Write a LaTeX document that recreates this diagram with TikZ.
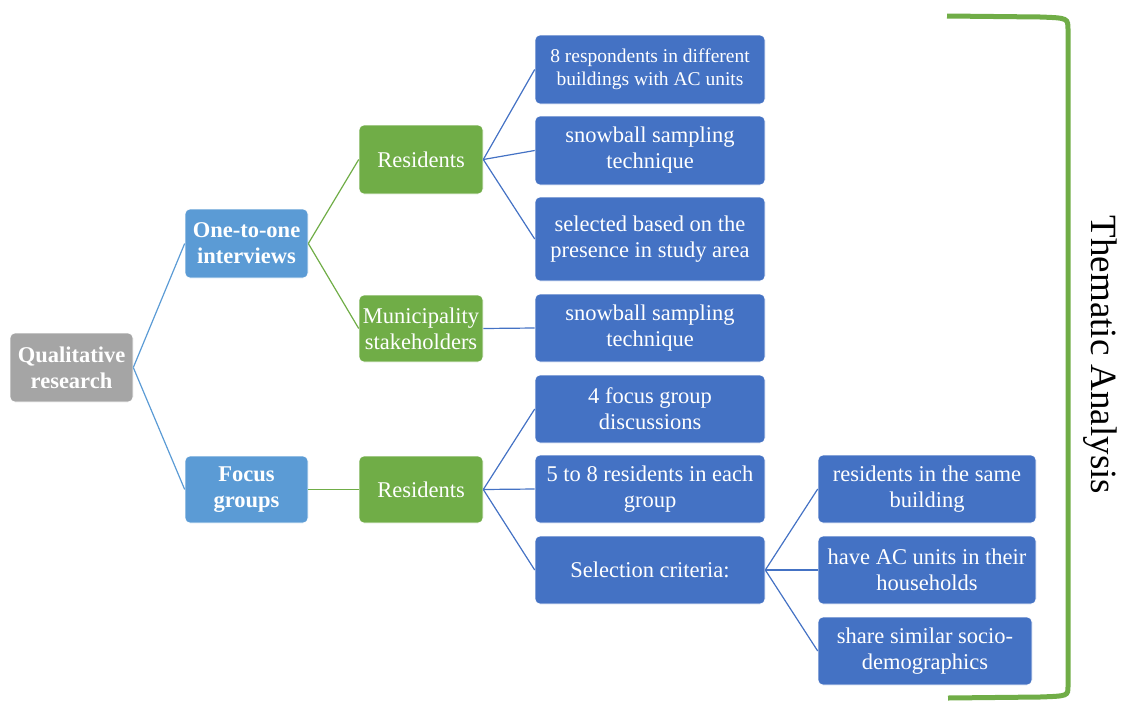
\documentclass[tikz,border=0pt]{standalone}
\usepackage{fontspec}
\setmainfont{Liberation Serif}
\definecolor{gry}{HTML}{A5A5A5}
\definecolor{lblue}{HTML}{5B9BD5}
\definecolor{grn}{HTML}{70AD47}
\definecolor{dblue}{HTML}{4472C4}
\tikzset{
  box/.style={rectangle, rounded corners=5pt, draw=white, line width=0.6pt, text=white, align=center, inner sep=0pt, font=\fontsize{22.5}{26}\selectfont},
  boldbox/.style={box, font=\fontsize{22.5}{26}\selectfont\bfseries},
  smallbox/.style={box, font=\fontsize{19.5}{23}\selectfont},
  conn/.style={line width=1.2pt},
}
\begin{document}
\begin{tikzpicture}[x=1pt,y=-1pt]
\useasboundingbox (0,0) rectangle (1123,704);
% level 0
\node[boldbox, fill=gry, minimum width=123pt, minimum height=69pt] (q) at (71.5,367.5) {Qualitative\\research};
% level 1
\node[boldbox, fill=lblue, minimum width=123pt, minimum height=69pt] (one) at (246.5,243.5) {One-to-one\\interviews};
\node[boldbox, fill=lblue, minimum width=123pt, minimum height=67pt] (fg) at (246.5,489.5) {Focus\\groups};
% level 2
\node[box, fill=grn, minimum width=124pt, minimum height=69pt] (r1) at (421,159.5) {Residents};
\node[box, fill=grn, minimum width=124pt, minimum height=67pt] (ms) at (421,328.5) {Municipality\\stakeholders};
\node[box, fill=grn, minimum width=124pt, minimum height=67pt] (r2) at (421,489.5) {Residents};
% level 3
\node[smallbox, fill=dblue, minimum width=230pt, minimum height=69pt] (a1) at (650,69.5) {8 respondents in different\\buildings with AC units};
\node[box, fill=dblue, minimum width=230pt, minimum height=69pt] (a2) at (650,150.5) {snowball sampling\\technique};
\node[box, fill=dblue, minimum width=230pt, minimum height=84pt] (a3) at (650,239) {selected based on the\\presence in study area};
\node[box, fill=dblue, minimum width=230pt, minimum height=68pt] (b1) at (650,328) {snowball sampling\\technique};
\node[box, fill=dblue, minimum width=230pt, minimum height=68pt] (c1) at (650,409) {4 focus group\\discussions};
\node[box, fill=dblue, minimum width=230pt, minimum height=68pt] (c2) at (650,489) {5 to 8 residents in each\\group};
\node[box, fill=dblue, minimum width=230pt, minimum height=68pt] (c3) at (650,570) {Selection criteria:};
% level 4
\node[box, fill=dblue, minimum width=218pt, minimum height=68pt] (d1) at (927,489) {residents in the same\\building};
\node[box, fill=dblue, minimum width=218pt, minimum height=68pt] (d2) at (927,570) {have AC units in their\\households};
\node[box, fill=dblue, minimum width=214pt, minimum height=68pt] (d3) at (925,651) {share similar socio-\\demographics};
% connectors
\draw[conn, lblue] (q.east) -- (one.west);
\draw[conn, lblue] (q.east) -- (fg.west);
\draw[conn, grn] (one.east) -- (r1.west);
\draw[conn, grn] (one.east) -- (ms.west);
\draw[conn, grn] (fg.east) -- (r2.west);
\foreach \t in {a1,a2,a3} \draw[conn, dblue] (r1.east) -- (\t.west);
\draw[conn, dblue] (ms.east) -- (b1.west);
\foreach \t in {c1,c2,c3} \draw[conn, dblue] (r2.east) -- (\t.west);
\foreach \t in {d1,d2,d3} \draw[conn, dblue] (c3.east) -- (\t.west);
% bracket
\coordinate (bt) at (947,16);
\coordinate (bb) at (948,698);
\draw[grn, line width=5pt] (bt) -- (1040,17) .. controls (1068,18) .. (1068,30) -- (1068,686) .. controls (1068,696) .. (1040,697) -- (bb);
\node[rotate=-90, font=\fontsize{37}{40}\selectfont] (ta) at (1100,355) {Thematic Analysis};
\end{tikzpicture}
\end{document}
